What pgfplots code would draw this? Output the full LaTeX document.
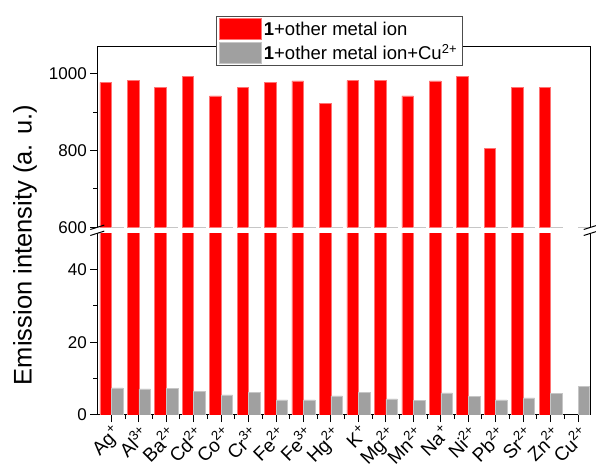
\documentclass[border=0pt]{standalone}
\usepackage{fontspec}
\setmainfont{Liberation Sans}
\usepackage{pgfplots}
\pgfplotsset{compat=1.18}
\definecolor{barred}{HTML}{FF0000}
\definecolor{bargray}{HTML}{A0A0A0}

\begin{document}
\begin{tikzpicture}
\pgfplotsset{
  common/.style={
    scale only axis, width=493.4bp, xmin=-0.51, xmax=17.46,
    ybar=0pt, bar width=0.42,
    separate axis lines,
    axis y line*=box,
    axis line style={-, line width=1bp, black},
    every outer x axis line/.append style={-},
    every outer y axis line/.append style={-},
    tick style={line width=1bp, black},
    tick align=outside,
    major tick length=7bp, minor tick length=4bp,
    ytick pos=left,
    /pgf/number format/assume math mode=true,
    /pgf/number format/set thousands separator={},
    tick label style={font=\fontsize{17bp}{20bp}\selectfont},
    legend image code/.code={\path[##1] (0bp,-10.5bp) rectangle (42bp,10.5bp);},
  },
  redbar/.style={fill=barred, draw=barred!55!white, line width=0.5bp},
  graybar/.style={fill=bargray, draw=bargray!60!white, line width=0.5bp},
}
\begin{axis}[common, at={(97.3bp,49bp)}, anchor=south west, height=181.7bp,
  ymin=0, ymax=50, ytick={0,20,40}, minor ytick={10,30},
  axis x line*=bottom, xtick pos=bottom,
  xtick={0,...,17}, minor xtick={0.5,1.5,...,16.5},
  xticklabels={Ag\textsuperscript{+}, Al\textsuperscript{3+}, Ba\textsuperscript{2+}, Cd\textsuperscript{2+}, Co\textsuperscript{2+}, Cr\textsuperscript{3+}, Fe\textsuperscript{2+}, Fe\textsuperscript{3+}, Hg\textsuperscript{2+}, K\textsuperscript{+}, Mg\textsuperscript{2+}, Mn\textsuperscript{2+}, Na\textsuperscript{+}, Ni\textsuperscript{2+}, Pb\textsuperscript{2+}, Sr\textsuperscript{2+}, Zn\textsuperscript{2+}, Cu\textsuperscript{2+}},
  xticklabel style={rotate=45, anchor=north east, inner sep=1bp, font=\fontsize{19bp}{21bp}\selectfont},
]
\addplot[redbar] coordinates {(0,977) (1,982) (2,964) (3,993) (4,942) (5,964) (6,977) (7,981) (8,923) (9,982) (10,982) (11,942) (12,981) (13,993) (14,805) (15,964) (16,964)};
\addplot[graybar] coordinates {(0,7.45) (1,7.17) (2,7.36) (3,6.44) (4,5.52) (5,6.16) (6,4.14) (7,4.14) (8,5.24) (9,6.16) (10,4.41) (11,3.95) (12,6.07) (13,5.15) (14,4.14) (15,4.69) (16,5.89) (17,7.82)};
\coordinate (LTL) at (rel axis cs:0,1);
\coordinate (LTR) at (rel axis cs:1,1);
\end{axis}
\begin{axis}[common, at={(97.3bp,236.7bp)}, anchor=south west, height=180.6bp,
  ymin=600, ymax=1070, ytick={600,800,1000}, minor ytick={700,900},
  axis x line*=top, xtick=\empty,
  legend style={at={(axis description cs:0.2406,1.170)}, anchor=north west, draw=black!70, line width=0.8bp, fill=white, font=\fontsize{18.5bp}{21bp}\selectfont, row sep=2bp},
  legend cell align=left,
]
\addplot[redbar] coordinates {(0,977) (1,982) (2,964) (3,993) (4,942) (5,964) (6,977) (7,981) (8,923) (9,982) (10,982) (11,942) (12,981) (13,993) (14,805) (15,964) (16,964)};
\addplot[graybar] coordinates {(0,7.45) (1,7.17) (2,7.36) (3,6.44) (4,5.52) (5,6.16) (6,4.14) (7,4.14) (8,5.24) (9,6.16) (10,4.41) (11,3.95) (12,6.07) (13,5.15) (14,4.14) (15,4.69) (16,5.89) (17,7.82)};
\legend{{\textbf{1}+other metal ion},{\textbf{1}+other metal ion+Cu\textsuperscript{2+}}}
\coordinate (UBL) at (rel axis cs:0,0);
\coordinate (UBR) at (rel axis cs:1,0);
\end{axis}
\foreach \c in {LTL,LTR,UBL,UBR}{
  \draw[line width=1bp, black] ([shift={(-7bp,-2.2bp)}]\c) -- ++(14bp,4.4bp);
}
\node[rotate=90, font=\fontsize{25.5bp}{28bp}\selectfont] at (25bp,219bp) {Emission intensity (a. u.)};
\pgfresetboundingbox
\path[use as bounding box] (0,0) rectangle (596bp,464bp);
\end{tikzpicture}
\end{document}
